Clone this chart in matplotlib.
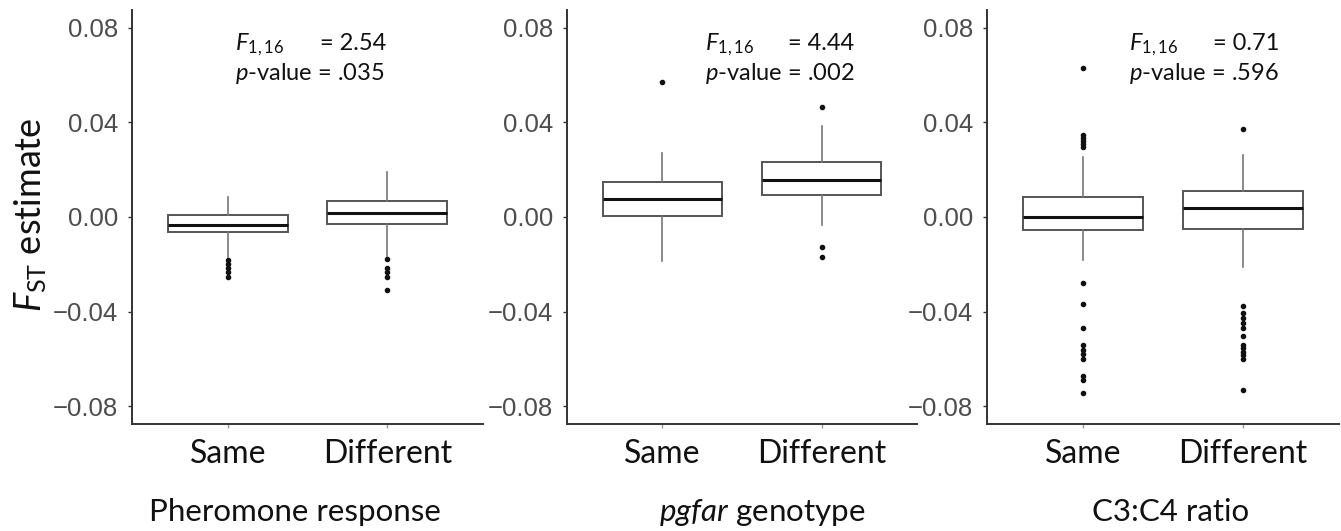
import matplotlib
matplotlib.use("Agg")
import matplotlib.pyplot as plt

# categories and labels
categories = ["Same", "Different"]
panel_titles = ["Pheromone response", r"$\mathit{pgfar}$ genotype", "C3:C4 ratio"]
f_values = ["2.54", "4.44", "0.71"]
p_values = [".035", ".002", ".596"]
ytick_values = [0.08, 0.04, 0.00, -0.04, -0.08]
ytick_labels = ["0.08", "0.04", "0.00", "\u22120.04", "\u22120.08"]

# box stats: [Same, Different]
pher_q1 = [-0.0065, -0.0030]
pher_med = [-0.0035, 0.0017]
pher_q3 = [0.0010, 0.0068]
pher_lo = [-0.0170, -0.0165]
pher_hi = [0.0085, 0.0190]
pher_out_same = [-0.0180, -0.0198, -0.0215, -0.0232, -0.0255]
pher_out_diff = [-0.0177, -0.0215, -0.0234, -0.0255, -0.0310]

pgf_q1 = [0.0003, 0.0092]
pgf_med = [0.0074, 0.0156]
pgf_q3 = [0.0149, 0.0231]
pgf_lo = [-0.0184, -0.0035]
pgf_hi = [0.0272, 0.0385]
pgf_out_same = [0.0569]
pgf_out_diff = [0.0463, -0.0125, -0.0170]

c34_q1 = [-0.0055, -0.0050]
c34_med = [0.0000, 0.0038]
c34_q3 = [0.0085, 0.0110]
c34_lo = [-0.0180, -0.0210]
c34_hi = [0.0255, 0.0260]
c34_out_same = [0.0629, 0.0345, 0.0335, 0.0322, 0.0310, 0.0297,
                -0.0278, -0.0368, -0.0470, -0.0542, -0.0563, -0.0580,
                -0.0600, -0.0673, -0.0690, -0.0742]
c34_out_diff = [0.0372, -0.0375, -0.0405, -0.0428, -0.0450, -0.0470,
                -0.0502, -0.0540, -0.0555, -0.0570, -0.0585, -0.0600,
                -0.0730]

panels = [
    (pher_q1, pher_med, pher_q3, pher_lo, pher_hi, [pher_out_same, pher_out_diff]),
    (pgf_q1, pgf_med, pgf_q3, pgf_lo, pgf_hi, [pgf_out_same, pgf_out_diff]),
    (c34_q1, c34_med, c34_q3, c34_lo, c34_hi, [c34_out_same, c34_out_diff]),
]

plt.rcParams['mathtext.fontset'] = 'custom'
plt.rcParams['mathtext.rm'] = 'Lato'
plt.rcParams['mathtext.it'] = 'Lato:italic'

W, H = 1341, 531
fig = plt.figure(figsize=(W / 100, H / 100), dpi=100)

# axes boxes in pixels: left, right
ax_px = [(132, 483), (567, 917), (987, 1339)]
top_px, bot_px = 10, 424
title_x = [295, 762, 1171]
ann_x = [(0.293, 0.723), (0.394, 0.820), (0.403, 0.830)]

axis_col = '#333333'
tick_col = '#4D4D4D'

for i, (q1, med, q3, lo, hi, outs) in enumerate(panels):
    l, r = ax_px[i]
    ax = fig.add_axes([l / W, (H - bot_px) / H, (r - l) / W, (bot_px - top_px) / H])
    stats = []
    for j in range(2):
        stats.append(dict(med=med[j], q1=q1[j], q3=q3[j], whislo=lo[j],
                          whishi=hi[j], fliers=outs[j], label=categories[j]))
    ax.bxp(stats, positions=[1, 2], widths=0.75, showcaps=False,
           patch_artist=True,
           boxprops=dict(facecolor='white', edgecolor='#555555', linewidth=1.4),
           medianprops=dict(color='#111111', linewidth=2.2),
           whiskerprops=dict(color='#777777', linewidth=1.2),
           flierprops=dict(marker='o', markersize=3.0, markerfacecolor='#111111',
                           markeredgecolor='#111111'))
    ax.set_xlim(0.4, 2.6)
    ax.set_ylim(-0.0875, 0.0875)
    ax.set_yticks(ytick_values)
    ax.set_yticklabels(ytick_labels, family='Liberation Sans', fontsize=18.5, color=tick_col)
    ax.set_xticks([1, 2])
    ax.set_xticklabels(categories, family='Lato', fontsize=23, color='#111111')
    ax.tick_params(axis='y', length=3, width=1, color=axis_col, pad=7)
    ax.tick_params(axis='x', length=3, width=1, color='#999999', pad=8)
    for s in ['top', 'right']:
        ax.spines[s].set_visible(False)
    for s in ['left', 'bottom']:
        ax.spines[s].set_color(axis_col)
        ax.spines[s].set_linewidth(1.4)

    ax.text(ann_x[i][0], 0.903, r'$\mathit{F}_{\mathrm{1,16}}$', transform=ax.transAxes,
            family='Lato', fontsize=17, ha='left', va='baseline', color='#111111')
    ax.text(ann_x[i][1], 0.903, '= ' + f_values[i], transform=ax.transAxes,
            family='Lato', fontsize=17, ha='right', va='baseline', color='#111111')
    ax.text(ann_x[i][0], 0.831, r'$\mathit{p}$-value = ' + p_values[i],
            transform=ax.transAxes, family='Lato', fontsize=17, ha='left',
            va='baseline', color='#111111')

    fig.text(title_x[i] / W, (H - 521) / H, panel_titles[i], family='Lato',
             fontsize=22.5, ha='center', va='baseline', color='#111111')

fig.text(31 / W, (H - 215) / H, r'$\mathit{F}_{\mathrm{ST}}$ estimate', family='Lato',
         fontsize=26, rotation=90, ha='center', va='center', color='#111111')

fig.savefig('out.png', dpi=100)
